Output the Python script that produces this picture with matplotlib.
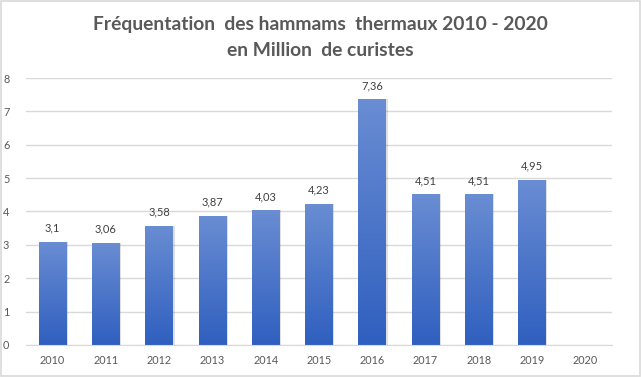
import matplotlib
matplotlib.use("Agg")
import matplotlib.pyplot as plt
import numpy as np
from matplotlib.patches import Rectangle
from matplotlib.colors import LinearSegmentedColormap

years = ["2010", "2011", "2012", "2013", "2014", "2015", "2016", "2017", "2018", "2019", "2020"]
values = [3.1, 3.06, 3.58, 3.87, 4.03, 4.23, 7.36, 4.51, 4.51, 4.95, 0]
labels = ["3,1", "3,06", "3,58", "3,87", "4,03", "4,23", "7,36", "4,51", "4,51", "4,95", ""]

plt.rcParams['font.family'] = ['Lato', 'DejaVu Sans']

fig = plt.figure(figsize=(6.41, 3.77), dpi=100)
fig.patch.set_facecolor("white")
border = Rectangle((0.001, 0.002), 0.997, 0.995, transform=fig.transFigure,
                   fill=False, edgecolor="#d9d9d9", linewidth=1.2)
fig.patches.append(border)

ax = fig.add_axes([0.0406, 0.085, 0.914, 0.708])
x = np.arange(len(years))
width = 0.52
bars = ax.bar(x, values, width=width, color="#4472c4", zorder=2)

grad = np.linspace(0, 1, 256).reshape(-1, 1)
cmap = LinearSegmentedColormap.from_list("g", ["#2f5fbf", "#6a8dd3"])
for b, v in zip(bars, values):
    if v <= 0:
        continue
    bx, by = b.get_x(), b.get_y()
    w, h = b.get_width(), b.get_height()
    sh = Rectangle((bx + 0.03, by), w, h, facecolor="#000000", alpha=0.12,
                   edgecolor="none", zorder=1.5)
    ax.add_patch(sh)
    im = ax.imshow(grad, extent=[bx, bx + w, by, by + h], origin="lower",
                   cmap=cmap, aspect="auto", zorder=2.5)
    im.set_clip_path(b)

for xi, v, lab in zip(x, values, labels):
    if lab:
        ax.annotate(lab, (xi, v), xytext=(0, 6), textcoords="offset points",
                    ha="center", va="bottom", fontsize=8, color="#404040")

ax.set_xlim(-0.5, len(years) - 0.5)
ax.set_ylim(0, 8)
ax.set_yticks(range(0, 9))
ax.set_xticks(x)
ax.set_xticklabels(years)
ax.tick_params(axis="both", length=0, labelsize=7.8, labelcolor="#595959")
ax.tick_params(axis="x", pad=7)
ax.tick_params(axis="y", pad=12)
ax.grid(axis="y", color="#d9d9d9", linewidth=1, zorder=0)
ax.set_axisbelow(True)
for s in ["top", "right", "left"]:
    ax.spines[s].set_visible(False)
ax.spines["bottom"].set_color("#d9d9d9")

fig.text(0.5, 0.935, "Fréquentation  des hammams  thermaux 2010 - 2020",
         ha="center", va="center", fontsize=13.9, fontweight="bold", color="#595959")
fig.text(0.5, 0.865, "en Million  de curistes",
         ha="center", va="center", fontsize=13.9, fontweight="bold", color="#595959")

fig.savefig("out.png", dpi=100)
